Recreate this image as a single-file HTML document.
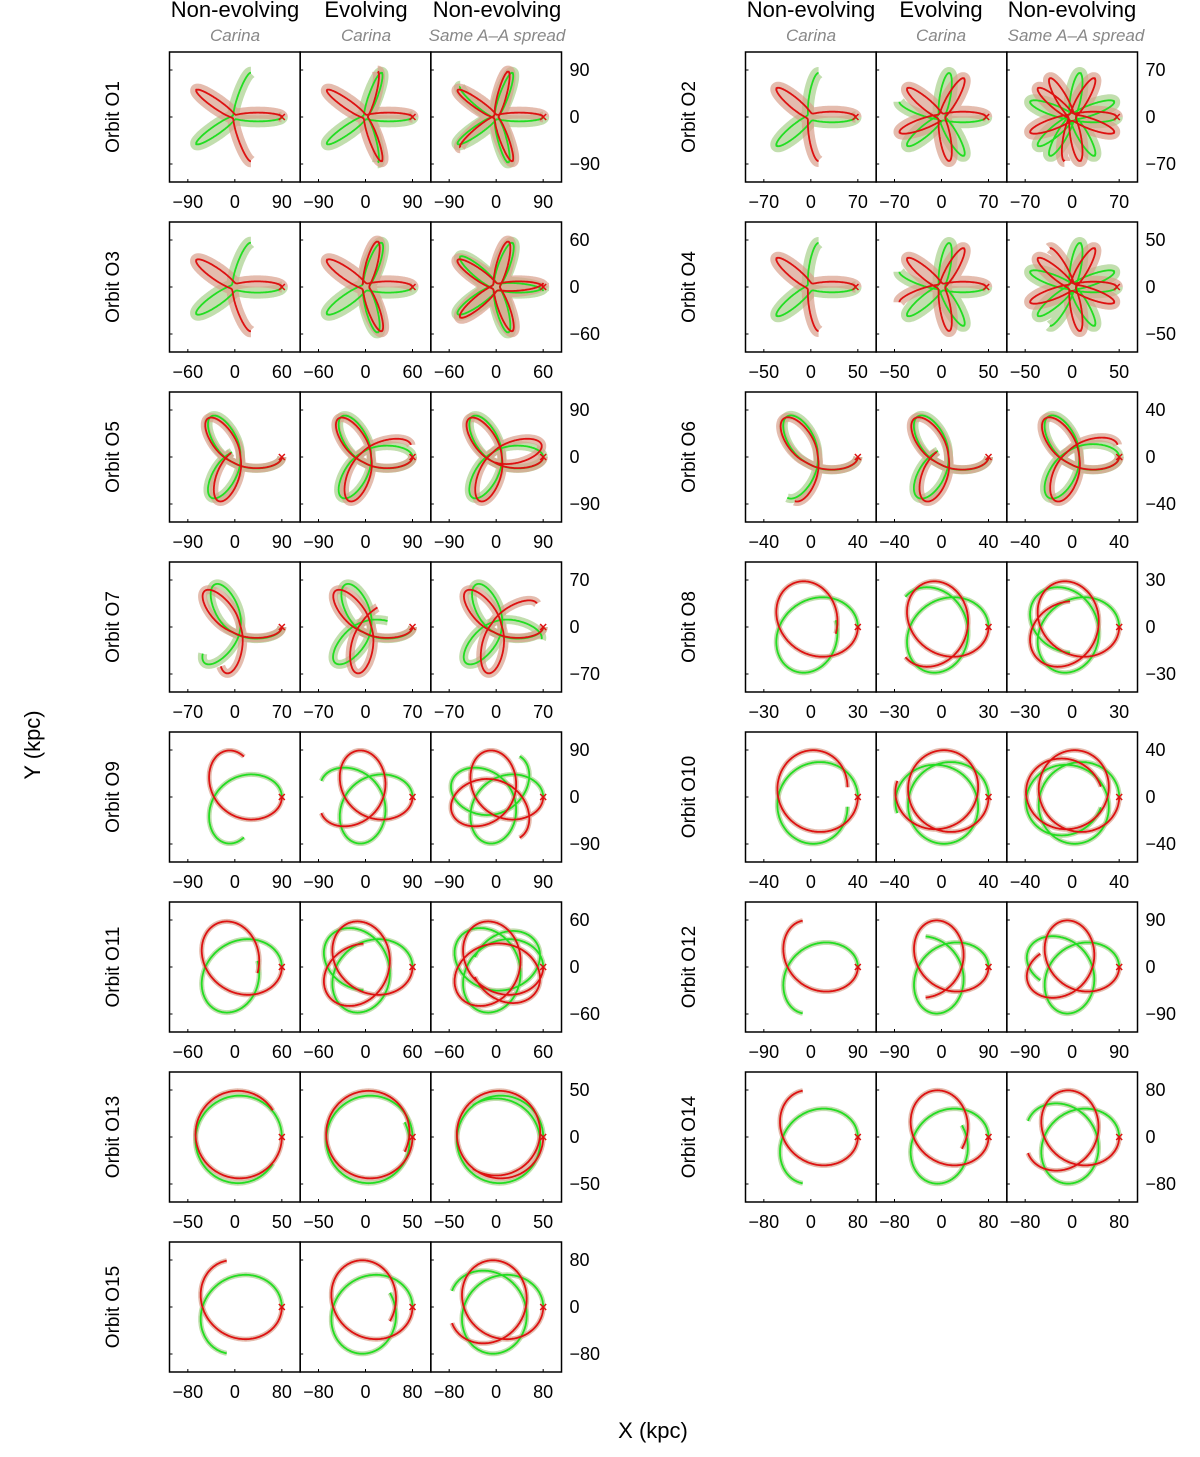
<!DOCTYPE html>
<html><head><meta charset="utf-8">
<style>
body{margin:0;background:#fff;}
svg{display:block;font-family:"Liberation Sans","DejaVu Sans",sans-serif;}
</style></head>
<body>
<svg id="fig" width="1200" height="1457" viewBox="0 0 1200 1457" xmlns="http://www.w3.org/2000/svg">
<g font-size="22" text-anchor="middle" fill="#000">
<text x="235" y="17">Non-evolving</text>
<text x="366" y="17">Evolving</text>
<text x="497" y="17">Non-evolving</text>
<text x="811" y="17">Non-evolving</text>
<text x="941" y="17">Evolving</text>
<text x="1072" y="17">Non-evolving</text>
</g>
<g font-size="17" font-style="italic" text-anchor="middle" fill="#888">
<text x="235" y="41">Carina</text>
<text x="366" y="41">Carina</text>
<text x="497" y="41">Same A–A spread</text>
<text x="811" y="41">Carina</text>
<text x="941" y="41">Carina</text>
<text x="1076" y="41">Same A–A spread</text>
</g>
<text x="40" y="745" font-size="22" text-anchor="middle" transform="rotate(-90 40 745)">Y (kpc)</text>
<text x="653" y="1438" font-size="22" text-anchor="middle">X (kpc)</text>
<g id="panels"></g>
</svg>
<script>
// per-orbit data (O1..O15)
const orbitNames = ["O1","O2","O3","O4","O5","O6","O7","O8","O9","O10","O11","O12","O13","O14","O15"];
const tickValues = [90,70,60,50,90,40,70,30,90,40,60,90,50,80,80];
const rMaxFrac = [1.0,0.95,1.0,0.95,1.0,1.0,1.0,1.0,1.0,1.0,1.0,1.0,1.0,1.0,1.0];
const rMinFrac = [0.05,0.08,0.08,0.08,0.12,0.15,0.12,0.55,0.35,0.65,0.5,0.4,0.82,0.5,0.6];
const dPhiRed = [145,140,145,140,-235,-235,-230,-250,-260,-280,-250,-260,-300,-260,-260];
const dPhiGreen = [-145,-140,-145,-140,-240,-240,-245,250,260,280,250,260,300,260,260];
const nRed = [[2,3,4],[2,4.5,7],[2,3.5,5],[2,4,6],[2.5,3,3.5],[2,2.5,3],[2.2,2.6,3],[1.5,2,2.5],[1.2,2,3],[1.3,2,2.5],[1.5,2.5,3.5],[1,1.7,2.3],[1.1,1.3,1.6],[1,1.5,2],[1,1.5,2]];
const nGreen = [[2,3,4],[2,4,6.5],[2,3.5,5],[2,4,6],[2.5,3,3.5],[2,2.5,3],[2.2,2.6,3],[1.5,2,2.5],[1.2,2,3],[1.3,2,2.5],[1.5,2.5,3.5],[1,1.7,2.3],[1.1,1.3,1.6],[1,1.5,2],[1,1.5,2]];

const NS="http://www.w3.org/2000/svg";
const root=document.getElementById('panels');
function mk(tag,attrs,parent){const e=document.createElementNS(NS,tag);for(const k in attrs)e.setAttribute(k,attrs[k]);parent.appendChild(e);return e;}
function orbitPath(rmax,rmin,dphi,n){
  const pts=[];const a=(rmax+rmin)/2,e=(rmax-rmin)/(rmax+rmin);
  const D=dphi*Math.PI/180;
  const steps=Math.round(n*200);
  let prevTh=null,acc=0;
  for(let i=0;i<=steps;i++){
    const t=i/steps*n;
    const M=2*Math.PI*t+Math.PI;
    let E=M;for(let k=0;k<30;k++){E=E-(E-e*Math.sin(E)-M)/(1-e*Math.cos(E));}
    const r=a*(1-e*Math.cos(E));
    let th=2*Math.atan2(Math.sqrt(1+e)*Math.sin(E/2),Math.sqrt(1-e)*Math.cos(E/2));
    if(prevTh===null){acc=th;}else{let d=th-prevTh;while(d<-Math.PI)d+=2*Math.PI;while(d>Math.PI)d-=2*Math.PI;acc+=d;}
    prevTh=th;
    const ph=D*(acc-Math.PI)/(2*Math.PI);
    pts.push([r*Math.cos(ph),r*Math.sin(ph)]);
  }
  return pts;
}
const PW=130.67,PH=130,SC=47;
orbitNames.forEach((nm,i)=>{
  const col=i%2,row=Math.floor(i/2);
  const x0=col?745.5:169.5,y0=52+170*row;
  const T=tickValues[i];
  const g=mk('g',{},root);
  
  
  const yl=mk('text',{x:col?695:119,y:y0+65,'font-size':19,'text-anchor':'middle',transform:`rotate(-90 ${col?695:119} ${y0+65})`},g);
  yl.textContent='Orbit '+nm;
  
  
  for(let p=0;p<3;p++){
    const px=x0+PW*p,cx=px+PW/2,cy=y0+65;
    const pg=mk('g',{},g);
    
    
    const cid='c'+i+'_'+p;
    const cp=mk('clipPath',{id:cid},pg);mk('rect',{x:px,y:y0,width:PW,height:PH},cp);
    const inner=mk('g',{'clip-path':`url(#${cid})`},pg);
    const toD=pts=>pts.map((q,j)=>(j?'L':'M')+(cx+q[0]*SC).toFixed(1)+' '+(cy-q[1]*SC).toFixed(1)).join('');
    const red=orbitPath(rMaxFrac[i],rMinFrac[i],dPhiRed[i],nRed[i][p]);
    const grn=orbitPath(rMaxFrac[i],rMinFrac[i],dPhiGreen[i],nGreen[i][p]);
    const rmin=rMinFrac[i];const w=rmin<0.1?12:(rmin<0.3?9:5);
    const gc=mk('path',{d:toD(grn),fill:'none',stroke:'#b3d69a','stroke-width':w,'stroke-opacity':0.8,'stroke-linejoin':'round'},inner);
    
    
    const rc=mk('path',{d:toD(red),fill:'none',stroke:'#d9a08c','stroke-width':w,'stroke-opacity':0.7,'stroke-linejoin':'round'},inner);
    
    
    const gl=mk('path',{d:toD(grn),fill:'none',stroke:'#22dd22','stroke-width':1.8},inner);
    
    
    const rl=mk('path',{d:toD(red),fill:'none',stroke:'#dd1111','stroke-width':1.8},inner);
    
    
    const mx=cx+rMaxFrac[i]*SC;
    const xm=mk('path',{d:`M${mx-3} ${cy-3}L${mx+3} ${cy+3}M${mx-3} ${cy+3}L${mx+3} ${cy-3}`,stroke:'#dd1111','stroke-width':1.5},inner);
    
    
    const fr=mk('rect',{x:px,y:y0,width:PW,height:PH,fill:'none',stroke:'#000','stroke-width':1.5},pg);
    
    
    [-T,0,T].forEach(v=>{
      const xx=cx+v/T*SC;
      const tl=mk('text',{x:xx,y:y0+PH+26,'font-size':18,'text-anchor':'middle'},pg);
      tl.textContent=(v<0?'\u2212':'')+Math.abs(v);
      
      
      mk('line',{x1:xx,y1:y0+PH,x2:xx,y2:y0+PH-3,stroke:'#000'},pg);
      const yy=cy-v/T*SC;
      mk('line',{x1:px,y1:yy,x2:px+3,y2:yy,stroke:'#000'},pg);
    });
  }
  [-T,0,T].forEach(v=>{
    const yy=y0+65-v/T*SC;
    const tl=mk('text',{x:x0+3*PW+8,y:yy+6,'font-size':18},g);
    tl.textContent=(v<0?'\u2212':'')+Math.abs(v);
    
    
  });
});
</script>
</body></html>
